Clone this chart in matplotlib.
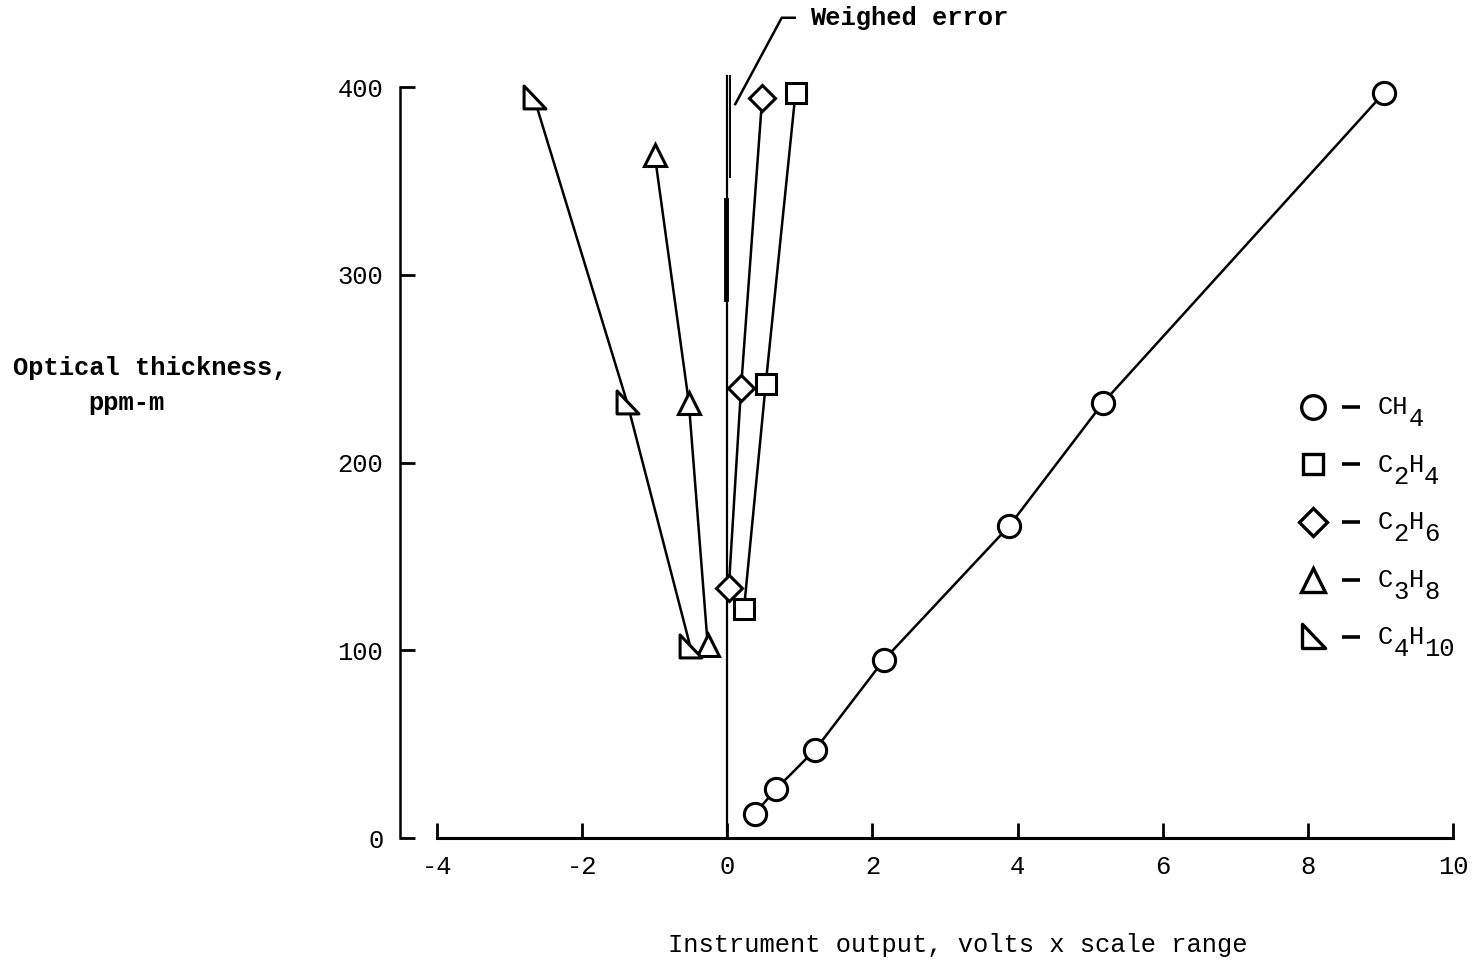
import matplotlib.pyplot as plt
from matplotlib.path import Path

plt.rcParams['font.family'] = ['Liberation Mono', 'DejaVu Sans Mono']
plt.rcParams['axes.unicode_minus'] = False

# instrument output (volts x scale range) vs optical thickness (ppm-m)
ch4_x = [0.38, 0.67, 1.21, 2.16, 3.88, 5.18, 9.05]
ch4_y = [13, 26, 47, 95, 166, 232, 397]
c2h4_x = [0.23, 0.53, 0.94]
c2h4_y = [122, 242, 397]
c2h6_x = [0.02, 0.19, 0.48]
c2h6_y = [133, 240, 394]
c3h8_x = [-0.27, -0.53, -1.0]
c3h8_y = [103, 232, 364]
c4h10_x = [-0.51, -1.38, -2.66]
c4h10_y = [102, 232, 394]

# weighed error band drawn along the zero line
zero_line_x = [0, 0]
zero_line_y = [0, 406]
err_line_x = [0.04, 0.04]
err_line_y = [352, 406]
err_band_x = [-0.015, -0.015]
err_band_y = [287, 340]
leader_x = [0.11, 0.75, 0.93]
leader_y = [391, 437, 437]

xticks = [-4, -2, 0, 2, 4, 6, 8, 10]
yticks = [0, 100, 200, 300, 400]

# legend formulas as (text, subscript) pieces
gases = [
    [('CH', 0), ('4', 1)],
    [('C', 0), ('2', 1), ('H', 0), ('4', 1)],
    [('C', 0), ('2', 1), ('H', 0), ('6', 1)],
    [('C', 0), ('3', 1), ('H', 0), ('8', 1)],
    [('C', 0), ('4', 1), ('H', 0), ('10', 1)],
]

W, H = 1475, 963
fs = 18.4
fig = plt.figure(figsize=(W / 100, H / 100), dpi=100)
ax = fig.add_axes([0, 0, 1, 1])

# pixel mapping of the original plate
px_per_x = 72.57
px_per_y = 1.877
x0_px, y0_px = 727.3, 838
ax.set_xlim(-x0_px / px_per_x, (W - x0_px) / px_per_x)
ax.set_ylim(-(H - y0_px) / px_per_y, y0_px / px_per_y)

tri = Path([(-0.5, -0.5), (-0.5, 0.6), (0.55, -0.5), (-0.5, -0.5)],
           [Path.MOVETO, Path.LINETO, Path.LINETO, Path.CLOSEPOLY])

styles = [('o', 16), ('s', 14), ('D', 13), ('^', 16), (tri, 18)]
series = [(ch4_x, ch4_y), (c2h4_x, c2h4_y), (c2h6_x, c2h6_y),
          (c3h8_x, c3h8_y), (c4h10_x, c4h10_y)]

lw = 1.8
for (xs, ys), (m, ms) in zip(series, styles):
    ax.plot(xs, ys, color='black', lw=lw, marker=m, ms=ms, mfc='white',
            mec='black', mew=2.2, zorder=3)

ax.plot(zero_line_x, zero_line_y, color='black', lw=1.6, zorder=2)
ax.plot(err_line_x, err_line_y, color='black', lw=1.4, zorder=2)
ax.plot(err_band_x, err_band_y, color='black', lw=3.5, zorder=2)
ax.plot(leader_x, leader_y, color='black', lw=1.8, zorder=2)
ax.text(1.14, 437, 'Weighed error', fontsize=fs, fontweight='bold',
        va='center', ha='left')

# detached axes
for s in ['top', 'right']:
    ax.spines[s].set_visible(False)
ax.spines['left'].set_position(('data', -4.51))
ax.spines['left'].set_bounds(0, 400)
ax.spines['bottom'].set_position(('data', 0))
ax.spines['bottom'].set_bounds(-4, 10)
ax.spines['left'].set_linewidth(1.8)
ax.spines['bottom'].set_linewidth(2.2)
ax.set_xticks(xticks)
ax.set_yticks(yticks)
ax.tick_params(axis='both', direction='in', length=11, width=2.0, labelsize=fs)
ax.tick_params(axis='x', pad=12)
ax.tick_params(axis='y', pad=12)

# legend, drawn by hand so subscripts stay full size
char_px = 0.6 * fs * 100 / 72
for i, ((m, ms), pieces) in enumerate(zip(styles, gases)):
    yp = 407 + i * 57.5
    yf = 1 - yp / H
    ax.plot([1313 / W], [yf], transform=fig.transFigure, ls='none',
            marker=m, ms=ms + 1, mfc='white', mec='black', mew=2.4)
    ax.plot([1342 / W, 1360 / W], [yf, yf], transform=fig.transFigure,
            color='black', lw=2.6, solid_capstyle='butt')
    xp = 1378
    for txt, sub in pieces:
        fig.text(xp / W, 1 - (yp + 12 * sub) / H, txt, fontsize=fs,
                 va='center', ha='left')
        xp += char_px * len(txt)

fig.text(13 / W, 1 - 368 / H, 'Optical thickness,', fontsize=fs,
         fontweight='bold', va='center', ha='left')
fig.text(88 / W, 1 - 403 / H, 'ppm-m', fontsize=fs, fontweight='bold',
         va='center', ha='left')
fig.text(958 / W, 1 - 945 / H, 'Instrument output, volts x scale range',
         fontsize=fs, va='center', ha='center')

fig.savefig('out.png', dpi=100)
